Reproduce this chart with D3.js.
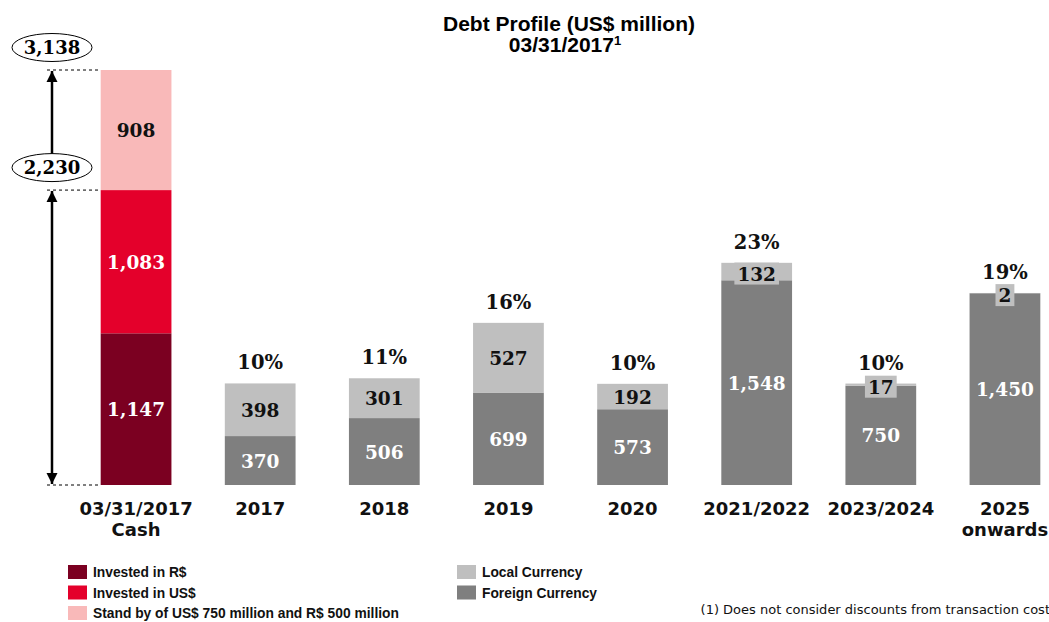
<!DOCTYPE html>
<html>
<head>
<meta charset="utf-8">
<script src="https://cdn.jsdelivr.net/npm/d3@7"></script>
<style>
  body { margin: 0; background: #fff; }
  svg { display: block; }
</style>
</head>
<body>
<div id="chart"></div>
<script>
// categories along the bottom
var categories = ['03/31/2017|Cash', '2017', '2018', '2019', '2020', '2021/2022', '2023/2024', '2025|onwards']
// cash bar (bottom to top)
var cashLabels = ['Invested in R$', 'Invested in US$', 'Stand by of US$ 750 million and R$ 500 million']
var cashValues = [1147, 1083, 908]
// debt bars
var debtYears = categories.slice(1)
var foreignValues = [370, 506, 699, 573, 1548, 750, 1450]
var localValues = [398, 301, 527, 192, 132, 17, 2]
var pctLabels = ['10%', '11%', '16%', '10%', '23%', '10%', '19%']
var totalLabels = ['3,138', '2,230']

var cashColors = ['#7b0021', '#e4002b', '#f9b9b9']
var localColor = '#bfbfbf'
var foreignColor = '#7f7f7f'

var W = 1049, H = 622
var sans = '"Liberation Sans", Arial, sans-serif'
var numFont = '"DejaVu Serif", serif'
var catFont = '"DejaVu Sans", sans-serif'

var svg = d3.select('#chart').append('svg')
  .attr('width', W)
  .attr('height', H)

var x = d3.scaleBand()
  .domain(categories)
  .range([74, 1067])
  .paddingInner(0.43)
  .paddingOuter(0.215)

var cashTotal = d3.sum(cashValues)
var y = d3.scaleLinear()
  .domain([0, cashTotal])
  .range([485, 70])

// title
var title = svg.append('text')
  .attr('x', 569)
  .attr('text-anchor', 'middle')
  .style('font-family', sans)
  .style('font-weight', 'bold')
  .style('font-size', '21px')
title.append('tspan').attr('x', 569).attr('y', 31).text('Debt Profile (US$ million)')
title.append('tspan').attr('x', 565).attr('y', 52).text('03/31/2017')
title.append('tspan').attr('dy', -7).style('font-size', '13px').text('1')

// cash stacked bar
var cashStack = []
var acc = 0
cashValues.forEach(function (v, i) {
  cashStack.push({ y0: acc, y1: acc + v, v: v, color: cashColors[i], dark: i < 2 })
  acc += v
})

var cashG = svg.append('g')
cashG.selectAll('rect')
  .data(cashStack)
  .enter()
  .append('rect')
  .attr('x', x(categories[0]))
  .attr('width', x.bandwidth())
  .attr('y', function (d) { return y(d.y1) })
  .attr('height', function (d) { return y(d.y0) - y(d.y1) })
  .style('fill', function (d) { return d.color })

cashG.selectAll('text')
  .data(cashStack)
  .enter()
  .append('text')
  .attr('x', x(categories[0]) + x.bandwidth() / 2)
  .attr('y', function (d) { return (y(d.y0) + y(d.y1)) / 2 + 7 })
  .attr('text-anchor', 'middle')
  .style('font-family', numFont)
  .style('font-weight', 'bold')
  .style('font-size', '18.5px')
  .style('fill', function (d) { return d.dark ? '#fff' : '#111' })
  .text(function (d) { return d3.format(',')(d.v) })

// dashed guides and arrows on the left
var ax = 52
var defs = svg.append('defs')
defs.append('marker')
  .attr('id', 'arr')
  .attr('viewBox', '0 0 10 10')
  .attr('refX', 10).attr('refY', 5)
  .attr('markerWidth', 4.5).attr('markerHeight', 4.5)
  .attr('markerUnits', 'strokeWidth')
  .attr('orient', 'auto-start-reverse')
  .append('path')
  .attr('d', 'M0,0 L10,5 L0,10 z')
  .style('fill', '#000')

var guides = [cashTotal, cashValues[0] + cashValues[1], 0]
svg.selectAll('line.guide')
  .data(guides)
  .enter()
  .append('line')
  .attr('class', 'guide')
  .attr('x1', 47)
  .attr('x2', x(categories[0]))
  .attr('y1', function (d) { return y(d) })
  .attr('y2', function (d) { return y(d) })
  .style('stroke', '#000')
  .style('stroke-width', 1)
  .style('stroke-dasharray', '3,3')

// upper arrow: from the 2,230 ellipse up to 3,138
svg.append('line')
  .attr('x1', ax).attr('x2', ax)
  .attr('y1', y(guides[1]) - 36)
  .attr('y2', y(guides[0]) + 1)
  .style('stroke', '#000')
  .style('stroke-width', 2.5)
  .attr('marker-end', 'url(#arr)')

// lower arrow: from 0 to 2,230, both heads
svg.append('line')
  .attr('x1', ax).attr('x2', ax)
  .attr('y1', y(guides[1]) + 1)
  .attr('y2', y(0) - 1)
  .style('stroke', '#000')
  .style('stroke-width', 2.5)
  .attr('marker-start', 'url(#arr)')
  .attr('marker-end', 'url(#arr)')

var ellY = [y(guides[0]) - 22.5, y(guides[1]) - 22.5]
var ells = svg.selectAll('g.ell')
  .data(totalLabels)
  .enter()
  .append('g')
  .attr('class', 'ell')
  .attr('transform', function (d, i) { return 'translate(' + ax + ',' + ellY[i] + ')' })
ells.append('ellipse')
  .attr('rx', 40)
  .attr('ry', 14)
  .style('fill', '#fff')
  .style('stroke', '#000')
  .style('stroke-width', 1)
ells.append('text')
  .attr('y', 6.5)
  .attr('text-anchor', 'middle')
  .style('font-family', numFont)
  .style('font-weight', 'bold')
  .style('font-size', '18px')
  .text(function (d) { return d })

// debt bars
var debt = debtYears.map(function (c, i) {
  return { cat: c, f: foreignValues[i], l: localValues[i], pct: pctLabels[i] }
})

var bars = svg.selectAll('g.debt')
  .data(debt)
  .enter()
  .append('g')
  .attr('class', 'debt')

bars.append('rect')
  .attr('x', function (d) { return x(d.cat) })
  .attr('width', x.bandwidth())
  .attr('y', function (d) { return y(d.f) })
  .attr('height', function (d) { return y(0) - y(d.f) })
  .style('fill', foreignColor)

bars.append('rect')
  .attr('x', function (d) { return x(d.cat) })
  .attr('width', x.bandwidth())
  .attr('y', function (d) { return y(d.f + d.l) })
  .attr('height', function (d) { return y(d.f) - y(d.f + d.l) })
  .style('fill', localColor)

bars.append('text')
  .attr('x', function (d) { return x(d.cat) + x.bandwidth() / 2 })
  .attr('y', function (d) { return y(d.f / 2) + 7 })
  .attr('text-anchor', 'middle')
  .style('font-family', numFont)
  .style('font-weight', 'bold')
  .style('font-size', '18.5px')
  .style('fill', '#fff')
  .text(function (d) { return d3.format(',')(d.f) })

// local labels, with a grey box when the segment is too thin
bars.each(function (d) {
  var g = d3.select(this)
  var cx = x(d.cat) + x.bandwidth() / 2
  var h = y(d.f) - y(d.f + d.l)
  var cy = y(d.f + d.l / 2) + (h < 24 ? 2 : 0)
  var t = g.append('text')
    .attr('x', cx)
    .attr('y', cy + 7)
    .attr('text-anchor', 'middle')
    .style('font-family', numFont)
    .style('font-weight', 'bold')
    .style('font-size', '18.5px')
    .style('fill', '#111')
    .text(d3.format(',')(d.l))
  if (h < 24) {
    var bb = t.node().getBBox()
    g.insert('rect', function () { return t.node() })
      .attr('x', bb.x - 3)
      .attr('width', bb.width + 6)
      .attr('y', cy - 11)
      .attr('height', 22)
      .style('fill', localColor)
  }
})

bars.append('text')
  .attr('x', function (d) { return x(d.cat) + x.bandwidth() / 2 })
  .attr('y', function (d) { return y(d.f + d.l) - 14 })
  .attr('text-anchor', 'middle')
  .style('font-family', numFont)
  .style('font-weight', 'bold')
  .style('font-size', '19.5px')
  .style('fill', '#111')
  .text(function (d) { return d.pct })

// category labels
var cats = svg.selectAll('text.cat')
  .data(categories)
  .enter()
  .append('text')
  .attr('class', 'cat')
  .attr('text-anchor', 'middle')
  .style('font-family', catFont)
  .style('font-weight', 'bold')
  .style('font-size', '18px')
  .style('fill', '#111')
cats.each(function (d) {
  var parts = d.split('|')
  var t = d3.select(this)
  parts.forEach(function (p, i) {
    t.append('tspan')
      .attr('x', x(d) + x.bandwidth() / 2)
      .attr('y', 515 + i * 21)
      .text(p)
  })
})

// legend
var legendLeft = cashLabels.map(function (l, i) { return { label: l, color: cashColors[i] } })
var legendRight = [{ label: 'Local Currency', color: localColor }, { label: 'Foreign Currency', color: foreignColor }]

function drawLegend (items, lx) {
  var lg = svg.append('g')
  var it = lg.selectAll('g')
    .data(items)
    .enter()
    .append('g')
    .attr('transform', function (d, i) { return 'translate(' + lx + ',' + (565 + i * 20.5) + ')' })
  it.append('rect')
    .attr('width', 19)
    .attr('height', 14)
    .style('fill', function (d) { return d.color })
  it.append('text')
    .attr('x', 25)
    .attr('y', 12)
    .style('font-family', sans)
    .style('font-weight', 'bold')
    .style('font-size', '13.8px')
    .style('fill', '#111')
    .text(function (d) { return d.label })
}
drawLegend(legendLeft, 68)
drawLegend(legendRight, 457)

// footnote
svg.append('text')
  .attr('x', 1050)
  .attr('y', 614)
  .attr('text-anchor', 'end')
  .style('font-family', catFont)
  .style('font-size', '13px')
  .style('fill', '#111')
  .text('(1) Does not consider discounts from transaction cost')
</script>
</body>
</html>
